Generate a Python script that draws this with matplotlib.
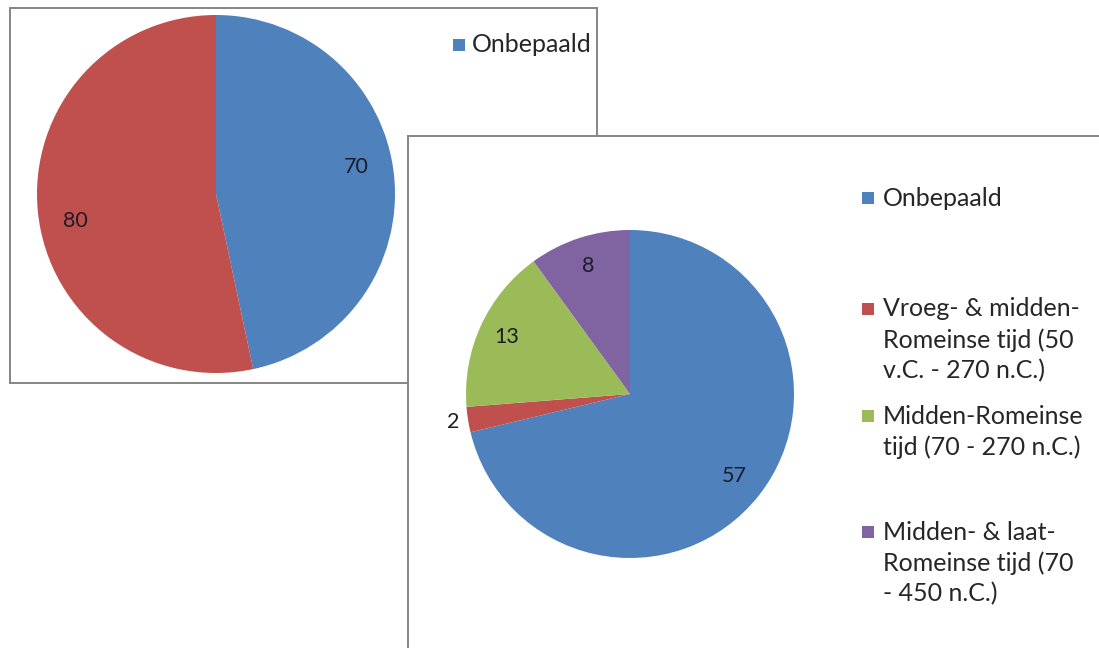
import numpy as np
import matplotlib
matplotlib.use("Agg")
import matplotlib.pyplot as plt
from matplotlib.patches import Rectangle

# Panel 1: total
cats1 = ["Onbepaald", "Overig"]
vals1 = [70, 80]
legend1 = ["Onbepaald"]

# Panel 2: by period
cats2 = [
    ["Onbepaald"],
    ["Vroeg- & midden-", "Romeinse tijd (50", "v.C. - 270 n.C.)"],
    ["Midden-Romeinse", "tijd (70 - 270 n.C.)"],
    ["Midden- & laat-", "Romeinse tijd (70", "- 450 n.C.)"],
]
vals2 = [57, 2, 13, 8]

BLUE = "#4F81BD"
RED = "#C0504D"
GREEN = "#9BBB59"
PURPLE = "#8064A2"
colors1 = [BLUE, RED]
colors2 = [BLUE, RED, GREEN, PURPLE]

W, H = 1099, 648
fig = plt.figure(figsize=(W / 100, H / 100), dpi=100)
fig.patch.set_facecolor("white")
FONT = "Lato"
TXT = "#262626"
NUM = "#1c1c28"
LEG_FS = 18
NUM_FS = 15.5
LINE_STEP = 31


def px_axes(x0, y0, x1, y1, z=0):
    """Axes placed by a pixel box (top-left origin)."""
    return fig.add_axes([x0 / W, 1 - y1 / H, (x1 - x0) / W, (y1 - y0) / H], zorder=z)


def panel(x0, y0, x1, y1, z):
    ax = px_axes(0, 0, W, H, z)
    ax.set_xlim(0, W)
    ax.set_ylim(H, 0)
    ax.axis("off")
    ax.add_patch(Rectangle((x0, y0), x1 - x0, y1 - y0, facecolor="white",
                           edgecolor="#858585", linewidth=1.4))
    return ax


def draw_pie(cx, cy, r, vals, colors, z, label_r, shift=0.0):
    ax = px_axes(cx - r, cy - r, cx + r, cy + r, z)
    wedges, _ = ax.pie(vals, colors=colors, startangle=90, counterclock=False,
                       radius=1.0, wedgeprops=dict(linewidth=0))
    ax.set_xlim(-1, 1)
    ax.set_ylim(-1, 1)
    ax.set_aspect("auto")
    ax.axis("off")
    for w, v, lr in zip(wedges, vals, label_r):
        ang = np.deg2rad((w.theta1 + w.theta2) / 2 + shift)
        ax.text(lr * np.cos(ang), lr * np.sin(ang), str(v), ha="center",
                va="center", fontsize=NUM_FS, family=FONT, color=NUM,
                clip_on=False)
    return ax


def legend_entry(ax, sq_x, text_x, y, color, lines):
    ax.add_patch(Rectangle((sq_x, y - 6), 12, 12, facecolor=color,
                           edgecolor="none"))
    for i, line in enumerate(lines):
        ax.text(text_x, y + i * LINE_STEP, line, ha="left", va="center",
                fontsize=LEG_FS, family=FONT, color=TXT)


# First panel
p1 = panel(10, 8, 597, 383, 1)
draw_pie(216, 194, 179, vals1, colors1, 2, [0.8, 0.8], shift=5)
legend_entry(p1, 453, 472, 45, colors1[0], legend1)

# Second panel, drawn over the first
p2 = panel(408, 136, W + 10, H + 10, 3)
draw_pie(630, 394, 164, vals2, colors2, 4, [0.81, 1.09, 0.83, 0.82])
ys2 = [198, 309, 416, 532]
for y, c, lines in zip(ys2, colors2, cats2):
    legend_entry(p2, 862, 883, y, c, lines)

fig.savefig("out.png", dpi=100, facecolor="white")
